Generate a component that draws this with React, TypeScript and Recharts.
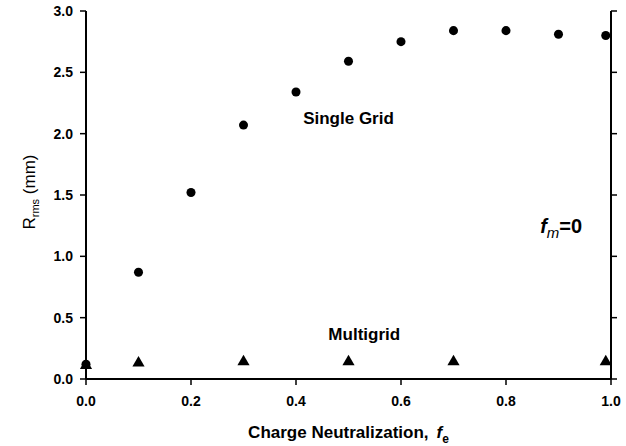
import React from 'react';
import { ScatterChart, Scatter, XAxis, YAxis, ZAxis, ReferenceDot } from 'recharts';

// charge neutralization values and rms radius (mm)
const feSingle = [0, 0.1, 0.2, 0.3, 0.4, 0.5, 0.6, 0.7, 0.8, 0.9, 0.99];
const rmsSingle = [0.12, 0.87, 1.52, 2.07, 2.34, 2.59, 2.75, 2.84, 2.84, 2.81, 2.8];
const feMulti = [0, 0.1, 0.3, 0.5, 0.7, 0.99];
const rmsMulti = [0.11, 0.13, 0.14, 0.14, 0.14, 0.14];

const xTicks = [0, 0.2, 0.4, 0.6, 0.8, 1.0];
const yTicks = [0, 0.5, 1.0, 1.5, 2.0, 2.5, 3.0];

const singleGrid = feSingle.map((fe, i) => ({ fe, rms: rmsSingle[i] }));
const multiGrid = feMulti.map((fe, i) => ({ fe, rms: rmsMulti[i] }));

const FONT = '"Liberation Sans", Arial, sans-serif';
const tickStyle = { fontSize: 14, fontWeight: 'bold', fill: '#000', fontFamily: FONT };
const noLabel = () => '';

export default function App() {
  return (
    <div style={{ position: 'absolute', left: 0, top: 0, background: '#fff' }}>
      <ScatterChart width={626} height={446} margin={{ top: 11, right: 0, bottom: 0, left: 0 }}>
        <XAxis
          dataKey="fe"
          type="number"
          domain={[0, 1]}
          ticks={xTicks}
          tickFormatter={(v) => v.toFixed(1)}
          height={67}
          axisLine={{ stroke: '#000', strokeWidth: 2 }}
          tickLine={{ stroke: '#000', strokeWidth: 1.5 }}
          tickSize={6}
          tickMargin={11}
          tick={tickStyle}
          label={{
            content: ({ viewBox }: any) => (
              <text
                x={viewBox.x + viewBox.width / 2}
                y={viewBox.y + 59}
                textAnchor="middle"
                fontFamily={FONT}
                fontSize={17}
                fontWeight="bold"
                fill="#000"
              >
                Charge Neutralization,
                <tspan dx={8} fontStyle="italic">f</tspan>
                <tspan dy={5} fontSize={12}>e</tspan>
              </text>
            ),
          }}
        />
        {/* frame: top axis, ticks only */}
        <XAxis
          xAxisId="top"
          dataKey="fe"
          orientation="top"
          type="number"
          domain={[0, 1]}
          ticks={xTicks}
          tickFormatter={noLabel}
          height={0}
          axisLine={{ stroke: '#000', strokeWidth: 2 }}
          tickLine={{ stroke: '#000', strokeWidth: 1.5 }}
          tickSize={6}
        />
        <YAxis
          dataKey="rms"
          type="number"
          domain={[0, 3]}
          ticks={yTicks}
          tickFormatter={(v) => v.toFixed(1)}
          width={86}
          axisLine={{ stroke: '#000', strokeWidth: 2 }}
          tickLine={{ stroke: '#000', strokeWidth: 1.5 }}
          tickSize={6}
          tickMargin={7}
          tick={tickStyle}
          label={{
            content: ({ viewBox }: any) => {
              const cx = 35;
              const cy = viewBox.y + viewBox.height / 2 - 3;
              return (
                <text
                  x={cx}
                  y={cy}
                  transform={`rotate(-90, ${cx}, ${cy})`}
                  textAnchor="middle"
                  fontFamily={FONT}
                  fontSize={17}
                  fill="#000"
                >
                  R
                  <tspan dy={4} fontSize={11}>rms</tspan>
                  <tspan dy={-4}> (mm)</tspan>
                </text>
              );
            },
          }}
        />
        {/* frame: right axis, ticks only */}
        <YAxis
          yAxisId="right"
          dataKey="rms"
          orientation="right"
          type="number"
          domain={[0, 3]}
          ticks={yTicks}
          tickFormatter={noLabel}
          width={15}
          axisLine={{ stroke: '#000', strokeWidth: 2 }}
          tickLine={{ stroke: '#000', strokeWidth: 1.5 }}
          tickSize={6}
        />
        <ZAxis zAxisId="circle" range={[64, 64]} />
        <ZAxis zAxisId="tri" range={[38, 38]} />

        {/* multigrid uses the top/right axes (same domains) so the frame gets drawn */}
        <Scatter
          name="Multigrid"
          data={multiGrid}
          xAxisId="top"
          yAxisId="right"
          zAxisId="tri"
          shape="triangle"
          fill="#000"
          isAnimationActive={false}
        />
        <Scatter
          name="Single Grid"
          data={singleGrid}
          zAxisId="circle"
          shape="circle"
          fill="#000"
          isAnimationActive={false}
        />

        <ReferenceDot
          x={0.5}
          y={2.08}
          r={1}
          fillOpacity={0}
          strokeOpacity={0}
          label={{
            content: ({ viewBox }: any) => (
              <text
                x={viewBox.x + viewBox.width / 2}
                y={viewBox.y + viewBox.height / 2}
                textAnchor="middle"
                fontFamily={FONT}
                fontSize={17}
                fontWeight="bold"
                fill="#000"
              >
                Single Grid
              </text>
            ),
          }}
        />
        <ReferenceDot
          x={0.53}
          y={0.32}
          r={1}
          fillOpacity={0}
          strokeOpacity={0}
          label={{
            content: ({ viewBox }: any) => (
              <text
                x={viewBox.x + viewBox.width / 2}
                y={viewBox.y + viewBox.height / 2}
                textAnchor="middle"
                fontFamily={FONT}
                fontSize={17}
                fontWeight="bold"
                fill="#000"
              >
                Multigrid
              </text>
            ),
          }}
        />
        <ReferenceDot
          x={0.865}
          y={1.19}
          r={1}
          fillOpacity={0}
          strokeOpacity={0}
          label={{
            content: ({ viewBox }: any) => (
              <text
                x={viewBox.x + viewBox.width / 2}
                y={viewBox.y + viewBox.height / 2}
                textAnchor="start"
                fontFamily={FONT}
                fontSize={20}
                fontWeight="bold"
                fill="#000"
              >
                <tspan fontStyle="italic">f</tspan>
                <tspan dy={5} fontSize={15} fontStyle="italic" fontWeight="normal">m</tspan>
                <tspan dy={-5}>=0</tspan>
              </text>
            ),
          }}
        />
      </ScatterChart>
    </div>
  );
}
